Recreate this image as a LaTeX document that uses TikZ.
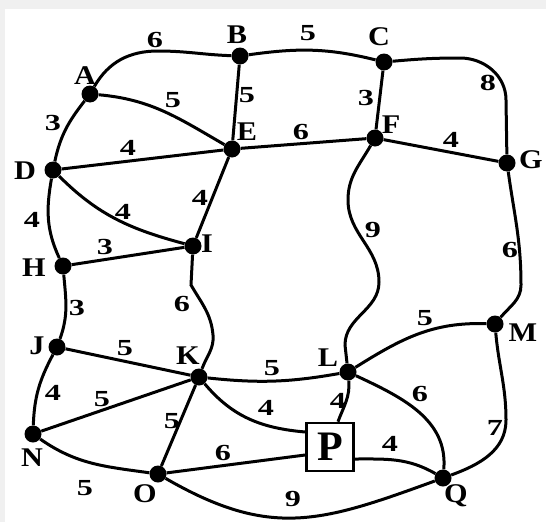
\documentclass[tikz,border=0pt]{standalone}
\usepackage{fontspec}
\usepackage{graphicx}
\setmainfont{Liberation Serif}
\usetikzlibrary{calc}
\definecolor{bggray}{HTML}{F0F0F0}
\newcommand{\VL}[1]{\scalebox{1.12}[1]{#1}}
\newcommand{\WL}[1]{\scalebox{1.4}[1]{#1}}
\begin{document}
\begin{tikzpicture}[x=1pt,y=1pt,
  dot/.style={circle,fill=black,inner sep=0pt,minimum size=17pt},
  lab/.style={font=\fontsize{27}{27}\selectfont\bfseries,inner sep=0pt},
  wt/.style={font=\fontsize{23}{23}\selectfont\bfseries,inner sep=0pt},
  edge/.style={line width=3pt},
  pbox/.style={draw,line width=2.6pt,fill=white,minimum width=47pt,minimum height=48pt,inner sep=0pt,font=\fontsize{42}{42}\selectfont\bfseries}]
\fill[bggray] (0,0) rectangle (546,-522);
\fill[white] (5,-9) rectangle (546,-522);
\useasboundingbox (0,0) rectangle (546,-522);

% vertices
\node[dot] (A) at (90,-94) {};
\node[dot] (B) at (240,-56) {};
\node[dot] (C) at (384,-62) {};
\node[dot] (D) at (53,-170) {};
\node[dot] (E) at (232,-149) {};
\node[dot] (F) at (375,-138) {};
\node[dot] (G) at (507,-163) {};
\node[dot] (H) at (63,-266) {};
\node[dot] (I) at (193,-246) {};
\node[dot] (J) at (57,-347) {};
\node[dot] (K) at (199,-377) {};
\node[dot] (L) at (348,-372) {};
\node[dot] (M) at (495,-324) {};
\node[dot] (N) at (33,-434) {};
\node[dot] (O) at (158,-474) {};
\node[dot] (Q) at (443,-478) {};
\node[pbox] (P) at (330,-447) {P};

% edges
\draw[edge] (A) to[out=60,in=180] (158,-51) to[out=0,in=178] (B);
\draw[edge] (B) to[out=8,in=166] (C);
\draw[edge] (C) to[out=5,in=180] (460,-58) to[out=0,in=90] (506,-100) -- (G);
\draw[edge] (A) to[out=-5,in=150] (E);
\draw[edge] (B) -- (E);
\draw[edge] (C) -- (F);
\draw[edge] (A) to[out=232,in=78] (D);
\draw[edge] (D) -- (E);
\draw[edge] (E) -- (F);
\draw[edge] (F) -- (G);
\draw[edge] (D) to[out=-45,in=165] (I);
\draw[edge] (E) -- (I);
\draw[edge] (D) to[out=-100,in=115] (H);
\draw[edge] (H) -- (I);
\draw[edge] (F) to[out=240,in=90] (348,-200) to[out=-90,in=90] (379,-282) to[out=-90,in=90] (345,-345) -- (L);
\draw[edge] (G) to[out=-82,in=90] (521,-285) to[out=-90,in=50] (M);
\draw[edge] (H) to[out=-85,in=70] (J);
\draw[edge] (I) -- (191,-285) to[out=-60,in=95] (213,-335) to[out=-85,in=70] (K);
\draw[edge] (J) -- (K);
\draw[edge] (L) to[out=32,in=178] (M);
\draw[edge] (K) to[bend right=8] (L);
\draw[edge] (J) to[out=-118,in=88] (N);
\draw[edge] (N) -- (K);
\draw[edge] (K) -- (O);
\draw[edge] (K) to[out=-50,in=175] ($(P.west)+(0,15)$);
\draw[edge] (L) to[out=-85,in=70] ($(P.north)+(8,0)$);
\draw[edge] (L) to[out=-25,in=85] (Q);
\draw[edge] (M) to[out=-85,in=90] (506,-420) to[out=-90,in=20] (Q);
\draw[edge] (N) to[out=-35,in=172] (O);
\draw[edge] (O) -- ($(P.west)+(0,-8)$);
\draw[edge] ($(P.east)+(0,-12)$) to[out=0,in=150] (Q);
\draw[edge] (O) to[out=-30,in=200,looseness=1.15] (Q);

% vertex labels
\node[lab] (lA) at (85,-76) {\VL{A}};
\node[lab] (lB) at (237,-35) {\VL{B}};
\node[lab] (lC) at (379,-37) {\VL{C}};
\node[lab] (lD) at (25,-171) {\VL{D}};
\node[lab] (lE) at (247,-132) {\VL{E}};
\node[lab] (lF) at (391,-125) {\VL{F}};
\node[lab] (lG) at (531,-160) {\VL{G}};
\node[lab] (lH) at (34,-268) {\VL{H}};
\node[lab] (lI) at (207,-244) {\VL{I}};
\node[lab] (lJ) at (37,-346) {\VL{J}};
\node[lab] (lK) at (188,-356) {\VL{K}};
\node[lab] (lL) at (328,-358) {\VL{L}};
\node[lab] (lM) at (523,-333) {\VL{M}};
\node[lab] (lN) at (32,-458) {\VL{N}};
\node[lab] (lO) at (145,-494) {\VL{O}};
\node[lab] (lQ) at (456,-496) {\VL{Q}};

% weights
\node[wt] (wAB) at (155,-40) {\WL{6}};
\node[wt] (wBC) at (308,-33) {\WL{5}};
\node[wt] (wCG) at (488,-83) {\WL{8}};
\node[wt] (wAE) at (173,-100) {\WL{5}};
\node[wt] (wBE) at (247,-95) {\WL{5}};
\node[wt] (wCF) at (366,-98) {\WL{3}};
\node[wt] (wAD) at (53,-123) {\WL{3}};
\node[wt] (wDE) at (128,-148) {\WL{4}};
\node[wt] (wEF) at (301,-132) {\WL{6}};
\node[wt] (wFG) at (451,-140) {\WL{4}};
\node[wt] (wDI) at (123,-212) {\WL{4}};
\node[wt] (wEI) at (200,-198) {\WL{4}};
\node[wt] (wDH) at (32,-220) {\WL{4}};
\node[wt] (wHI) at (105,-247) {\WL{3}};
\node[wt] (wFL) at (373,-230) {\WL{9}};
\node[wt] (wGM) at (510,-250) {\WL{6}};
\node[wt] (wHJ) at (77,-308) {\WL{3}};
\node[wt] (wIK) at (182,-304) {\WL{6}};
\node[wt] (wJK) at (125,-348) {\WL{5}};
\node[wt] (wLM) at (425,-318) {\WL{5}};
\node[wt] (wKL) at (272,-368) {\WL{5}};
\node[wt] (wJN) at (53,-393) {\WL{4}};
\node[wt] (wNK) at (102,-399) {\WL{5}};
\node[wt] (wKO) at (172,-421) {\WL{5}};
\node[wt] (wKP) at (266,-408) {\WL{4}};
\node[wt] (wLP) at (338,-401) {\WL{4}};
\node[wt] (wLQ) at (420,-394) {\WL{6}};
\node[wt] (wMQ) at (495,-428) {\WL{7}};
\node[wt] (wNO) at (85,-488) {\WL{5}};
\node[wt] (wOP) at (223,-453) {\WL{6}};
\node[wt] (wPQ) at (390,-444) {\WL{4}};
\node[wt] (wOQ) at (293,-499) {\WL{9}};
\end{tikzpicture}
\end{document}
